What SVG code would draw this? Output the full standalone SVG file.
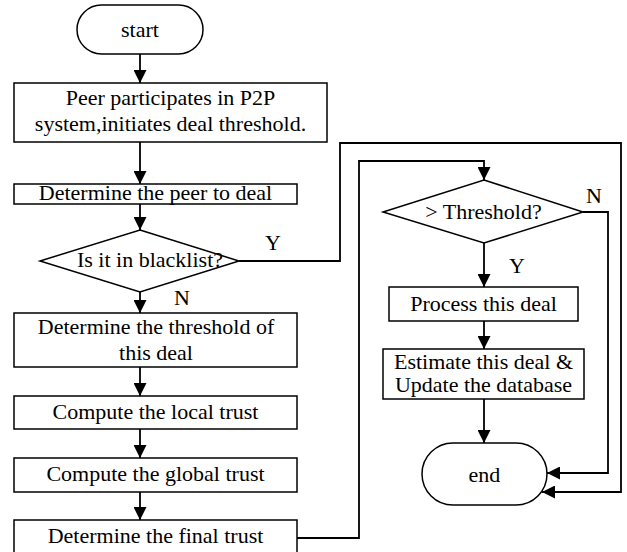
<svg xmlns="http://www.w3.org/2000/svg" width="627" height="552" viewBox="0 0 627 552">
<style>
.n{fill:#fff;stroke:#000;stroke-width:1.5}
.t{font-family:'Liberation Serif','Times New Roman','DejaVu Serif',serif;font-size:22px;fill:#000;text-anchor:middle}
.c{fill:none;stroke:#000;stroke-width:1.8}
.a{marker-end:url(#ah)}
</style>
<defs>
<marker id="ah" markerUnits="userSpaceOnUse" markerWidth="14" markerHeight="13" refX="13" refY="6.5" orient="auto">
<path d="M0,0 L13,6.5 L0,13 z" fill="#000"/>
</marker>
</defs>
<rect width="627" height="552" fill="#fff"/>
<g id="connectors">
<path class="c a" d="M140,54 V83"/>
<path class="c a" d="M140,142 V184"/>
<path class="c a" d="M140,204 V230"/>
<path class="c a" d="M140,292 V313"/>
<path class="c a" d="M140,367 V396"/>
<path class="c a" d="M140,429 V458"/>
<path class="c a" d="M140,492 V520"/>
<path class="c a" d="M239,261 H340 V143 H621 V492 H542"/>
<path class="c a" d="M296,538 H359 V161 H484 V180"/>
<path class="c a" d="M484,243 V287"/>
<path class="c a" d="M484,321 V349"/>
<path class="c a" d="M484,399 V443"/>
<path class="c a" d="M583,212 H608 V473 H547"/>
</g>
<g id="start">
<rect class="n" x="77" y="5" width="126" height="49" rx="24.5" ry="24.5"/>
<text class="t" x="140" y="37" font-family="Liberation Serif">start</text>
</g>
<g id="init">
<rect class="n" x="14" y="83" width="313" height="59"/>
<text class="t" x="170.5" y="105">Peer participates in P2P</text>
<text class="t" x="170.5" y="131">system,initiates deal threshold.</text>
</g>
<g id="peer">
<rect class="n" x="14" y="184" width="283" height="20"/>
<text class="t" x="155.5" y="200">Determine the peer to deal</text>
</g>
<g id="blacklist">
<polygon class="n" points="140,230 239,261 140,292 40,261"/>
<text class="t" x="150" y="267">Is it in blacklist?</text>
</g>
<g id="labels">
<text class="t" x="273" y="250">Y</text>
<text class="t" x="182" y="305">N</text>
<text class="t" x="517" y="273">Y</text>
<text class="t" x="594" y="203">N</text>
</g>
<g id="threshold">
<rect class="n" x="14" y="313" width="283" height="54"/>
<text class="t" x="156" y="334">Determine the threshold of</text>
<text class="t" x="156" y="360">this deal</text>
</g>
<g id="local">
<rect class="n" x="14" y="396" width="283" height="33"/>
<text class="t" x="155.5" y="419">Compute the local trust</text>
</g>
<g id="global">
<rect class="n" x="14" y="458" width="283" height="34"/>
<text class="t" x="155.5" y="481">Compute the global trust</text>
</g>
<g id="final">
<rect class="n" x="14" y="520" width="283" height="34"/>
<text class="t" x="155.5" y="543">Determine the final trust</text>
</g>
<g id="check">
<polygon class="n" points="484,180 583,212 484,243 383,212"/>
<text class="t" x="483.5" y="219">&gt; Threshold?</text>
</g>
<g id="process">
<rect class="n" x="389" y="287" width="189" height="34"/>
<text class="t" x="483.5" y="311">Process this deal</text>
</g>
<g id="estimate">
<rect class="n" x="383" y="349" width="201" height="50"/>
<text class="t" x="483.5" y="369">Estimate this deal &amp;</text>
<text class="t" x="483.5" y="392">Update the database</text>
</g>
<g id="end">
<rect class="n" x="422" y="443" width="125" height="62" rx="31" ry="31"/>
<text class="t" x="484.5" y="482">end</text>
</g>
</svg>
